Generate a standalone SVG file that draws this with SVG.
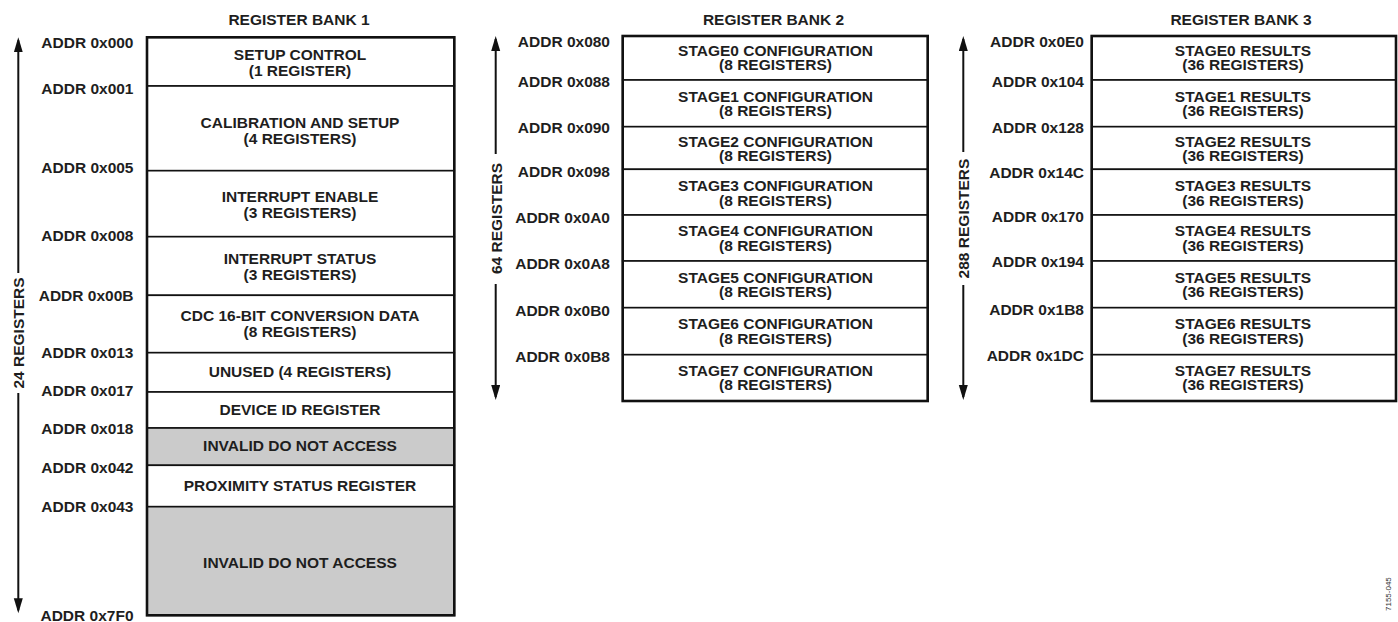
<svg xmlns="http://www.w3.org/2000/svg" width="1398" height="622" viewBox="0 0 1398 622">
<defs>
<style>
text{font-family:"Liberation Sans",Arial,Helvetica,sans-serif;font-weight:bold;font-size:15.5px;fill:#1e1e1e}
.c{text-anchor:middle}
.r{text-anchor:end}
.row{fill:#fff;stroke:#111;stroke-width:1.6}
.gray{fill:#cbcbcb}
.frame{fill:none;stroke:#111;stroke-width:2.6}
.ax{stroke:#111;stroke-width:2;fill:none}
.note{font-weight:normal;font-size:8px;fill:#333}
</style>
<marker id="ah" markerUnits="userSpaceOnUse" markerWidth="16" markerHeight="10" refX="12" refY="4.5" orient="auto">
<path d="M0,0 L15,4.5 L0,9 z" fill="#111"/>
</marker>
</defs>
<rect width="1398" height="622" fill="#fff"/>

<!-- Titles -->
<text class="c" x="299" y="25">REGISTER BANK 1</text>
<text class="c" x="773.5" y="25">REGISTER BANK 2</text>
<text class="c" x="1241" y="25">REGISTER BANK 3</text>

<!-- Bank 1 -->
<g id="bank1">
<g id="b1-setup"><rect class="row" x="147" y="37.3" width="307.3" height="48.7"/><text class="c" x="300" y="60">SETUP CONTROL</text><text class="c" x="300" y="75.5">(1 REGISTER)</text></g>
<g id="b1-calib"><rect class="row" x="147" y="86" width="307.3" height="84.7"/><text class="c" x="300" y="128.3">CALIBRATION AND SETUP</text><text class="c" x="300" y="144">(4 REGISTERS)</text></g>
<g id="b1-inten"><rect class="row" x="147" y="170.7" width="307.3" height="66"/><text class="c" x="300" y="202.3">INTERRUPT ENABLE</text><text class="c" x="300" y="218">(3 REGISTERS)</text></g>
<g id="b1-intstat"><rect class="row" x="147" y="236.7" width="307.3" height="58.6"/><text class="c" x="300" y="264.3">INTERRUPT STATUS</text><text class="c" x="300" y="280">(3 REGISTERS)</text></g>
<g id="b1-cdc"><rect class="row" x="147" y="295.3" width="307.3" height="57.4"/><text class="c" x="300" y="321">CDC 16-BIT CONVERSION DATA</text><text class="c" x="300" y="336.5">(8 REGISTERS)</text></g>
<g id="b1-unused"><rect class="row" x="147" y="352.7" width="307.3" height="39.3"/><text class="c" x="300" y="377">UNUSED (4 REGISTERS)</text></g>
<g id="b1-devid"><rect class="row" x="147" y="392" width="307.3" height="36"/><text class="c" x="300" y="415">DEVICE ID REGISTER</text></g>
<g id="b1-inv1"><rect class="row gray" x="147" y="428" width="307.3" height="37.3"/><text class="c" x="300" y="451">INVALID DO NOT ACCESS</text></g>
<g id="b1-prox"><rect class="row" x="147" y="465.3" width="307.3" height="41.4"/><text class="c" x="300" y="491">PROXIMITY STATUS REGISTER</text></g>
<g id="b1-inv2"><rect class="row gray" x="147" y="506.7" width="307.3" height="108.6"/><text class="c" x="300" y="568">INVALID DO NOT ACCESS</text></g>
<rect class="frame" x="147" y="37.3" width="307.3" height="578"/>
</g>
<g id="bank1-addr">
<text class="r" x="133.5" y="47.5">ADDR 0x000</text>
<text class="r" x="133.5" y="94">ADDR 0x001</text>
<text class="r" x="133.5" y="172.5">ADDR 0x005</text>
<text class="r" x="133.5" y="241">ADDR 0x008</text>
<text class="r" x="133.5" y="300.7">ADDR 0x00B</text>
<text class="r" x="133.5" y="358">ADDR 0x013</text>
<text class="r" x="133.5" y="396">ADDR 0x017</text>
<text class="r" x="133.5" y="434.3">ADDR 0x018</text>
<text class="r" x="133.5" y="473.3">ADDR 0x042</text>
<text class="r" x="133.5" y="512.3">ADDR 0x043</text>
<text class="r" x="133.5" y="620.5">ADDR 0x7F0</text>
</g>

<!-- Bank 2 -->
<g id="bank2">
<g id="b2-s0"><rect class="row" x="622.7" y="36" width="305" height="44"/><text class="c" x="775.5" y="56">STAGE0 CONFIGURATION</text><text class="c" x="775.5" y="70.3">(8 REGISTERS)</text></g>
<g id="b2-s1"><rect class="row" x="622.7" y="80" width="305" height="46.7"/><text class="c" x="775.5" y="101.7">STAGE1 CONFIGURATION</text><text class="c" x="775.5" y="116">(8 REGISTERS)</text></g>
<g id="b2-s2"><rect class="row" x="622.7" y="126.7" width="305" height="42.6"/><text class="c" x="775.5" y="146.7">STAGE2 CONFIGURATION</text><text class="c" x="775.5" y="161">(8 REGISTERS)</text></g>
<g id="b2-s3"><rect class="row" x="622.7" y="169.3" width="305" height="45.7"/><text class="c" x="775.5" y="191.3">STAGE3 CONFIGURATION</text><text class="c" x="775.5" y="205.6">(8 REGISTERS)</text></g>
<g id="b2-s4"><rect class="row" x="622.7" y="215" width="305" height="46"/><text class="c" x="775.5" y="236">STAGE4 CONFIGURATION</text><text class="c" x="775.5" y="250.5">(8 REGISTERS)</text></g>
<g id="b2-s5"><rect class="row" x="622.7" y="261" width="305" height="46.7"/><text class="c" x="775.5" y="282.7">STAGE5 CONFIGURATION</text><text class="c" x="775.5" y="297">(8 REGISTERS)</text></g>
<g id="b2-s6"><rect class="row" x="622.7" y="307.7" width="305" height="47"/><text class="c" x="775.5" y="329.3">STAGE6 CONFIGURATION</text><text class="c" x="775.5" y="343.8">(8 REGISTERS)</text></g>
<g id="b2-s7"><rect class="row" x="622.7" y="354.7" width="305" height="46.3"/><text class="c" x="775.5" y="375.7">STAGE7 CONFIGURATION</text><text class="c" x="775.5" y="390">(8 REGISTERS)</text></g>
<rect class="frame" x="622.7" y="36" width="305" height="365"/>
</g>
<g id="bank2-addr">
<text class="r" x="610" y="47.3">ADDR 0x080</text>
<text class="r" x="610" y="87.3">ADDR 0x088</text>
<text class="r" x="610" y="132.7">ADDR 0x090</text>
<text class="r" x="610" y="177.3">ADDR 0x098</text>
<text class="r" x="610" y="223.3">ADDR 0x0A0</text>
<text class="r" x="610" y="269">ADDR 0x0A8</text>
<text class="r" x="610" y="315.7">ADDR 0x0B0</text>
<text class="r" x="610" y="362.3">ADDR 0x0B8</text>
</g>

<!-- Bank 3 -->
<g id="bank3">
<g id="b3-s0"><rect class="row" x="1091.7" y="36" width="304.3" height="44"/><text class="c" x="1243" y="56">STAGE0 RESULTS</text><text class="c" x="1243" y="70.3">(36 REGISTERS)</text></g>
<g id="b3-s1"><rect class="row" x="1091.7" y="80" width="304.3" height="46.7"/><text class="c" x="1243" y="101.7">STAGE1 RESULTS</text><text class="c" x="1243" y="116">(36 REGISTERS)</text></g>
<g id="b3-s2"><rect class="row" x="1091.7" y="126.7" width="304.3" height="42.6"/><text class="c" x="1243" y="146.7">STAGE2 RESULTS</text><text class="c" x="1243" y="161">(36 REGISTERS)</text></g>
<g id="b3-s3"><rect class="row" x="1091.7" y="169.3" width="304.3" height="45.7"/><text class="c" x="1243" y="191.3">STAGE3 RESULTS</text><text class="c" x="1243" y="205.6">(36 REGISTERS)</text></g>
<g id="b3-s4"><rect class="row" x="1091.7" y="215" width="304.3" height="46"/><text class="c" x="1243" y="236">STAGE4 RESULTS</text><text class="c" x="1243" y="250.5">(36 REGISTERS)</text></g>
<g id="b3-s5"><rect class="row" x="1091.7" y="261" width="304.3" height="46.7"/><text class="c" x="1243" y="282.7">STAGE5 RESULTS</text><text class="c" x="1243" y="297">(36 REGISTERS)</text></g>
<g id="b3-s6"><rect class="row" x="1091.7" y="307.7" width="304.3" height="47"/><text class="c" x="1243" y="329.3">STAGE6 RESULTS</text><text class="c" x="1243" y="343.8">(36 REGISTERS)</text></g>
<g id="b3-s7"><rect class="row" x="1091.7" y="354.7" width="304.3" height="46.3"/><text class="c" x="1243" y="375.7">STAGE7 RESULTS</text><text class="c" x="1243" y="390">(36 REGISTERS)</text></g>
<rect class="frame" x="1091.7" y="36" width="304.3" height="365"/>
</g>
<g id="bank3-addr">
<text class="r" x="1084" y="47.3">ADDR 0x0E0</text>
<text class="r" x="1084" y="87.3">ADDR 0x104</text>
<text class="r" x="1084" y="132.7">ADDR 0x128</text>
<text class="r" x="1084" y="177.7">ADDR 0x14C</text>
<text class="r" x="1084" y="221.7">ADDR 0x170</text>
<text class="r" x="1084" y="266.7">ADDR 0x194</text>
<text class="r" x="1084" y="315">ADDR 0x1B8</text>
<text class="r" x="1084" y="361">ADDR 0x1DC</text>
</g>

<!-- Connectors: span arrows -->
<g id="connectors">
<line class="ax" x1="18.3" y1="273" x2="18.3" y2="40.3" marker-end="url(#ah)"/>
<line class="ax" x1="18.3" y1="393" x2="18.3" y2="610.3" marker-end="url(#ah)"/>
<line class="ax" x1="495.7" y1="154" x2="495.7" y2="39" marker-end="url(#ah)"/>
<line class="ax" x1="495.7" y1="284" x2="495.7" y2="397" marker-end="url(#ah)"/>
<line class="ax" x1="963.3" y1="152" x2="963.3" y2="39" marker-end="url(#ah)"/>
<line class="ax" x1="963.3" y1="285" x2="963.3" y2="397" marker-end="url(#ah)"/>
</g>
<g id="span-labels">
<text class="c" transform="translate(24,333) rotate(-90)">24 REGISTERS</text>
<text class="c" transform="translate(501.5,218.5) rotate(-90)">64 REGISTERS</text>
<text class="c" transform="translate(969,218.5) rotate(-90)">288 REGISTERS</text>
</g>
<text class="note" transform="translate(1391,611) rotate(-90)">7155-045</text>
</svg>
